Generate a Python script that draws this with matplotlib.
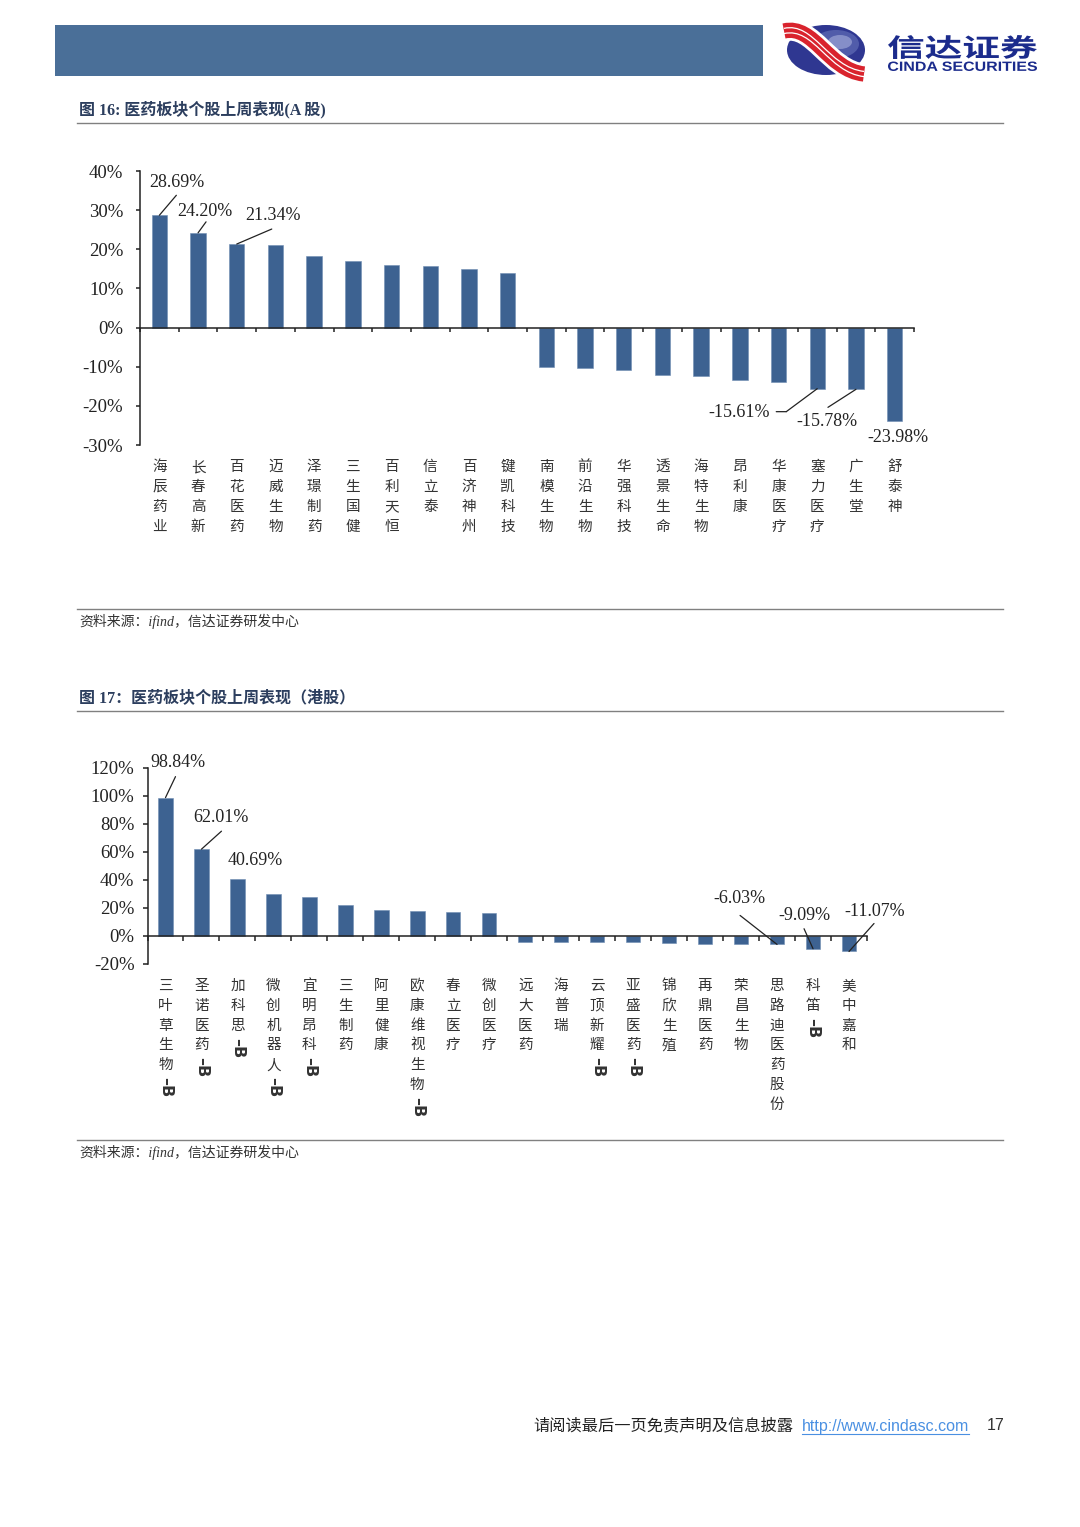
import matplotlib
matplotlib.use('Agg')
import matplotlib.pyplot as plt
import matplotlib.transforms as mtransforms
import numpy as np
from matplotlib.patches import Rectangle, Ellipse, PathPatch
from matplotlib.path import Path
from matplotlib.textpath import TextPath
from matplotlib.font_manager import FontProperties

W, H = 1080, 1527
plt.rcParams['font.family'] = ['Liberation Serif', 'Noto Sans CJK SC', 'DejaVu Sans']

# ---------------- data ----------------
a_names = ['海辰药业', '长春高新', '百花医药', '迈威生物', '泽璟制药', '三生国健', '百利天恒', '信立泰',
           '百济神州', '键凯科技', '南模生物', '前沿生物', '华强科技', '透景生命', '海特生物', '昂利康',
           '华康医疗', '塞力医疗', '广生堂', '舒泰神']
a_values = [28.69, 24.20, 21.34, 21.2, 18.4, 17.1, 15.9, 15.8, 15.05, 13.9,
            -9.95, -10.4, -10.9, -12.1, -12.3, -13.5, -13.8, -15.61, -15.78, -23.98]
a_ticks = [-30, -20, -10, 0, 10, 20, 30, 40]

h_names = ['三叶草生物-B', '圣诺医药-B', '加科思-B', '微创机器人-B', '宜明昂科-B', '三生制药', '阿里健康',
           '欧康维视生物-B', '春立医疗', '微创医疗', '远大医药', '海普瑞', '云顶新耀-B', '亚盛医药-B',
           '锦欣生殖', '再鼎医药', '荣昌生物', '思路迪医药股份', '科笛-B', '美中嘉和']
h_values = [98.84, 62.01, 40.69, 30.1, 28.1, 22.1, 18.5, 17.8, 16.8, 16.3,
            -4.3, -4.4, -4.5, -4.6, -4.8, -5.5, -5.7, -6.03, -9.09, -11.07]
h_ticks = [-20, 0, 20, 40, 60, 80, 100, 120]

# annotation layout: index -> (text offset px, leader polyline offsets px)
a_annos = {0: ((18, 33), [(17, 20)]),
           1: ((7, 21), [(8, 11)]),
           2: ((36, 29), [(35, 15)]),
           17: ((-78, -24), [(-31, -23), (-41, -23)]),
           18: ((-29, -32), [(-28, -18)]),
           19: ((3, -16), [])}
h_annos = {0: ((12, 35), [(10, 21)]),
           1: ((19, 32), [(20, 18)]),
           2: ((18, 19), []),
           17: ((-38, 46), [(-37, 29)]),
           18: ((-9, 33), [(-9, 20)]),
           19: ((26, 40), [(25, 28)])}

BAR = '#3D6291'
fig = plt.figure(figsize=(W / 100, H / 100), dpi=100)
fig.patch.set_facecolor('white')

# ---------------- decorative overlay ----------------
ov = fig.add_axes([0, 0, 1, 1])
ov.set_xlim(0, W)
ov.set_ylim(H, 0)
ov.axis('off')
ov.add_patch(Rectangle((55, 25), 708, 51, color='#4A6F98', lw=0))

# logo mark
ov.add_patch(Ellipse((826, 50), 78, 50, color='#2F3791', lw=0))
ov.add_patch(Ellipse((836, 44), 46, 28, color='#6E7CC0', lw=0, alpha=0.55))
ov.add_patch(Ellipse((840, 42), 24, 14, color='#B9C1E6', lw=0, alpha=0.5))
verts = [(784, 31), (814, 24), (828, 70), (864, 74)]
path = Path(verts, [Path.MOVETO, Path.CURVE4, Path.CURVE4, Path.CURVE4])
ov.add_patch(PathPatch(path, fc='none', ec='white', lw=15, capstyle='butt'))
ov.add_patch(PathPatch(path, fc='none', ec='#D9232D', lw=11, capstyle='butt'))
for dy in (-2.6, 2.6):
    v2 = [(x, y + dy) for x, y in verts]
    ov.add_patch(PathPatch(Path(v2, path.codes), fc='none', ec='white', lw=0.9))


def fit_text(s, x0, y0, x1, y1, prop, color):
    tp = TextPath((0, 0), s, size=100, prop=prop)
    bb = tp.get_extents()
    sx = (x1 - x0) / bb.width
    sy = (y1 - y0) / bb.height
    tr = mtransforms.Affine2D().translate(-bb.x0, -bb.y1).scale(sx, -sy).translate(x0, y0)
    ov.add_patch(PathPatch(tr.transform_path(tp), fc=color, ec='none', lw=0))


logo_col = '#1B2B8C'
fit_text('信达证券', 888, 35, 1037, 59, FontProperties(family='Noto Sans CJK SC', weight='bold'), logo_col)
fit_text('CINDA SECURITIES', 888, 61.5, 1037, 71, FontProperties(family='Liberation Sans', weight='bold'),
         logo_col)

title_col = '#2C3E5E'
ov.text(79, 110, '图 16: 医药板块个股上周表现(A 股)', fontsize=11.5, weight='bold', color=title_col,
        va='center', ha='left')
ov.text(79, 698, '图 17：医药板块个股上周表现（港股）', fontsize=11.5, weight='bold', color=title_col,
        va='center', ha='left')
for yy in (123, 609, 711, 1140):
    ov.plot([77, 1003], [yy, yy], color='#808080', lw=1)
for yy in (621, 1152):
    ov.text(79, yy, '资料来源：ifind，信达证券研发中心', fontsize=10, color='#333333',
            va='center', ha='left', style='italic')
ov.text(533, 1426, '请阅读最后一页免责声明及信息披露', fontsize=11.7, color='#222222',
        va='center', ha='left', family=['Noto Sans CJK SC'])
ov.text(802, 1426, 'http://www.cindasc.com', fontsize=11.5, color='#4A90E2',
        va='center', ha='left', family=['Liberation Sans'])
ov.plot([802, 969], [1434, 1434], color='#4A90E2', lw=0.8)
ov.text(987, 1426, '17', fontsize=11.5, color='#333333', va='center', ha='left',
        family=['Liberation Sans'])


def bar_chart(rect_px, names, values, yticks, lab_off, lab_step, tick_len, tick_pad, annos):
    left, top, right, bottom = rect_px
    ax = fig.add_axes([left / W, 1 - bottom / H, (right - left) / W, (bottom - top) / H])
    ax.patch.set_alpha(0)
    n = len(names)
    x = np.arange(n)
    ax.bar(x, values, width=0.4, color=BAR, zorder=2, edgecolor='#6F8DB3', linewidth=0.4)
    ax.set_xlim(-0.5, n - 0.5)
    ax.set_ylim(yticks[0], yticks[-1])
    ax.set_yticks(yticks)
    ax.set_yticklabels([f'{t}%' for t in yticks])
    for s in ('top', 'right'):
        ax.spines[s].set_visible(False)
    ax.spines['bottom'].set_position(('data', 0))
    ax.spines['bottom'].set_zorder(3)
    for s in ('left', 'bottom'):
        ax.spines[s].set_linewidth(1.1)
        ax.spines[s].set_color('#222222')
    ax.set_xticks(np.arange(n + 1) - 0.5)
    ax.tick_params(axis='x', direction='out', length=tick_len, width=1.1, labelbottom=False,
                   color='#222222')
    ax.tick_params(axis='y', direction='out', length=tick_len, width=1.1, labelsize=13.5,
                   pad=tick_pad, color='#222222', labelcolor='#222222')
    tr = ax.get_xaxis_transform()
    for i, name in enumerate(names):
        if name.endswith('-B'):
            base, suffix = name[:-2], name[-2:]
        else:
            base, suffix = name, ''
        for k, ch in enumerate(base):
            ax.annotate(ch, xy=(i, 0), xycoords=tr, xytext=(0, -(lab_off + k * lab_step)),
                        textcoords='offset pixels', ha='center', va='center', fontsize=10.5,
                        color='#333333', family=['Noto Sans CJK SC'], annotation_clip=False)
        if suffix:
            ax.annotate('–B', xy=(i, 0), xycoords=tr,
                        xytext=(0, -(lab_off + (len(base) - 0.5) * lab_step) - 2),
                        textcoords='offset pixels', ha='center', va='top', rotation=-90,
                        fontsize=11.5, weight='bold', color='#333333', family=['DejaVu Sans'],
                        annotation_clip=False)
    for i, (toff, line) in annos.items():
        v = values[i]
        ax.annotate(f'{v:.2f}%', xy=(i, v), xytext=toff, textcoords='offset pixels',
                    ha='center', va='center', fontsize=13, color='#222222', annotation_clip=False)
        pts = [(0, 0)] + line
        for p0, p1 in zip(pts[:-1], pts[1:]):
            c0 = mtransforms.offset_copy(ax.transData, fig=fig, x=p0[0], y=p0[1], units='dots')
            c1 = mtransforms.offset_copy(ax.transData, fig=fig, x=p1[0], y=p1[1], units='dots')
            ax.annotate('', xy=(i, v), xycoords=c0, xytext=(i, v), textcoords=c1,
                        arrowprops=dict(arrowstyle='-', color='#222222', lw=0.9,
                                        shrinkA=0, shrinkB=0), annotation_clip=False)
    return ax


bar_chart((140, 171, 914, 445), a_names, a_values, a_ticks, 22, 20, 3.0, 9, a_annos)
bar_chart((147.5, 768, 867, 964), h_names, h_values, h_ticks, 22, 19.8, 3.4, 6, h_annos)

fig.savefig('out.png', dpi=100, facecolor='white')
